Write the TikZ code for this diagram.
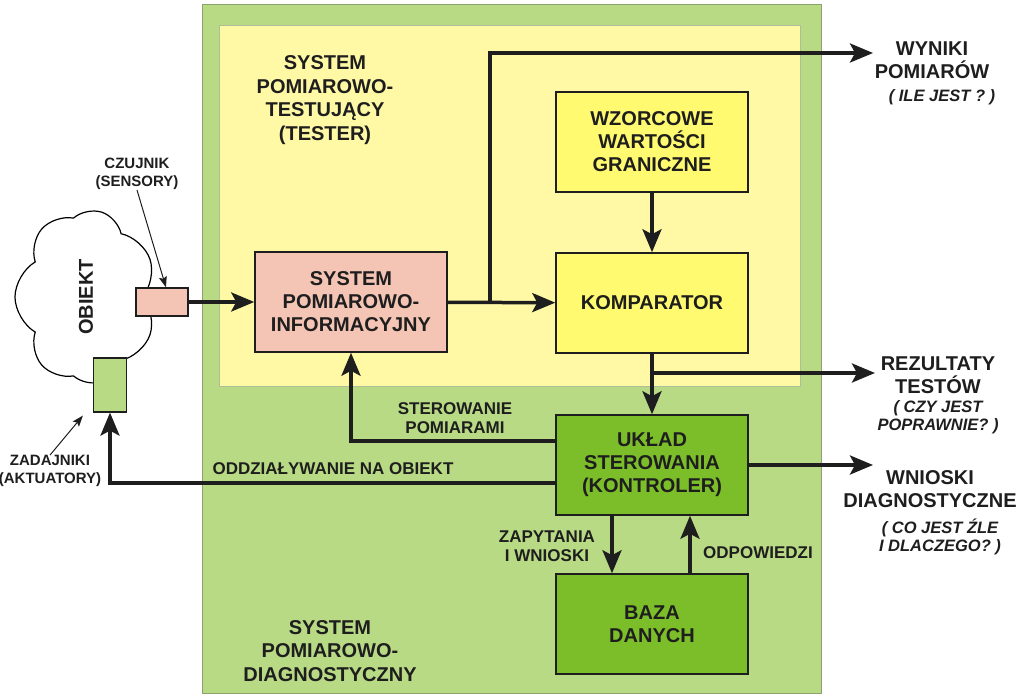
\documentclass[tikz,border=0pt]{standalone}
\usepackage{fontspec}
\setmainfont{Liberation Sans}
\usetikzlibrary{arrows.meta,shapes.symbols}

\definecolor{tlozielone}{RGB}{185,218,132}
\definecolor{tlozolte}{RGB}{255,249,166}
\definecolor{blokzolty}{RGB}{255,250,112}
\definecolor{blokrozowy}{RGB}{244,196,180}
\definecolor{blokzielony}{RGB}{124,190,42}
\definecolor{ramka}{RGB}{140,162,108}
\definecolor{tekst}{RGB}{30,30,30}

\tikzset{
  blok/.style={draw=tekst, line width=1.5pt, minimum width=192pt, minimum height=100pt,
    align=center, text=tekst, font=\bfseries\fontsize{20}{23}\selectfont},
  naglowek/.style={align=center, inner sep=0pt, text=tekst, font=\bfseries\fontsize{20}{23.5}\selectfont},
  uwaga/.style={align=center, inner sep=0pt, text=tekst, font=\bfseries\itshape\fontsize{16.5}{18}\selectfont},
  opis/.style={align=center, inner sep=0pt, text=tekst, font=\bfseries\fontsize{17}{19}\selectfont},
  drobny/.style={align=center, inner sep=0pt, text=tekst, font=\bfseries\fontsize{15}{18}\selectfont},
  przeplyw/.style={draw=tekst, line width=3.5pt, -{Stealth[length=23pt,width=19pt,inset=5pt]}},
  wskaz/.style={draw=tekst, line width=1pt, -{Stealth[length=11pt,width=8pt,inset=2pt]}}
}

\begin{document}
\begin{tikzpicture}[x=1pt,y=-1pt]
\useasboundingbox (0,0) rectangle (1023,700);

% tla systemow
\filldraw[fill=tlozielone, draw=ramka, line width=1pt] (202,5) rectangle (821,693);
\filldraw[fill=tlozolte, draw=ramka!70, line width=1pt] (219,26) rectangle (800,387);
\node[naglowek] (tester) at (325,100) {SYSTEM\\POMIAROWO-\\TESTUJĄCY\\(TESTER)};
\node[naglowek] (diagnoza) at (330,651) {SYSTEM\\POMIAROWO-\\DIAGNOSTYCZNY};

% obiekt
\node[cloud, draw=black, fill=white, line width=1.2pt, cloud puffs=7, cloud puff arc=120,
  rotate=90, minimum width=174pt, minimum height=142pt, text=tekst,
  font=\bfseries\fontsize{20}{23}\selectfont] (obiekt) at (86,297) {OBIEKT};
\node[draw=tekst, fill=blokrozowy, line width=1.2pt, minimum width=52pt, minimum height=28pt, inner sep=0pt] (czujnik) at (162,302) {};
\node[draw=tekst, fill=tlozielone, line width=1.2pt, minimum width=33pt, minimum height=54pt, inner sep=0pt] (zadajnik) at (110,385) {};
\node[drobny] (czujniklbl) at (137,174) {CZUJNIK\\(SENSORY)};
\node[drobny] (zadajniklbl) at (50,471) {ZADAJNIKI\\(AKTUATORY)};

% bloki
\node[blok, fill=blokrozowy] (spi) at (351,302) {SYSTEM\\POMIAROWO-\\INFORMACYJNY};
\node[blok, fill=blokzolty] (wzorce) at (652,142) {WZORCOWE\\WARTOŚCI\\GRANICZNE};
\node[blok, fill=blokzolty] (komparator) at (652,303) {KOMPARATOR};
\node[blok, fill=blokzielony] (uklad) at (652,465) {UKŁAD\\STEROWANIA\\(KONTROLER)};
\node[blok, fill=blokzielony] (baza) at (652,624) {BAZA\\DANYCH};

% wyjscia
\node[naglowek] (wyniki) at (932,60) {WYNIKI\\POMIARÓW};
\node[uwaga] (wynikiuw) at (942,97) {( ILE JEST ? )};
\node[naglowek] (rezultaty) at (938,375) {REZULTATY\\TESTÓW};
\node[uwaga] (rezultatyuw) at (938,417) {( CZY JEST\\POPRAWNIE? )};
\node[naglowek] (wnioski) at (930,489) {WNIOSKI\\DIAGNOSTYCZNE};
\node[uwaga] (wnioskiuw) at (940,537) {( CO JEST ŹLE\\I DLACZEGO? )};

\coordinate (rozg1) at (490,303);
\coordinate (rozg2) at (652,373);
\coordinate (wynikikon) at (873,53);
\coordinate (rezultatykon) at (875,373);
\coordinate (wnioskikon) at (873,465);

% polaczenia
\draw[przeplyw] (czujnik) -- (spi);
\draw[przeplyw] (spi) -- (komparator);
\draw[przeplyw] (rozg1) |- (wynikikon);
\draw[przeplyw] (wzorce) -- (komparator);
\draw[przeplyw] (komparator) -- (uklad);
\draw[przeplyw] (rozg2) -- (rezultatykon);
\draw[przeplyw] (uklad) -- (wnioskikon);
\draw[przeplyw] ([yshift=24pt]uklad.west) -| (spi);
\draw[przeplyw] ([yshift=-18pt]uklad.west) -| (zadajnik);
\draw[przeplyw] ([xshift=-40pt]uklad.south) -- ([xshift=-40pt]baza.north);
\draw[przeplyw] ([xshift=38pt]baza.north) -- ([xshift=38pt]uklad.south);
\draw[wskaz] (czujniklbl.south) -- ([xshift=4pt]czujnik.north);
\draw[wskaz] (zadajniklbl.north) -- ([xshift=-10pt,yshift=-3pt]zadajnik.south west);

% opisy polaczen
\node[opis] (sterpom) at (455,418) {STEROWANIE\\POMIARAMI};
\node[opis] (oddzial) at (333,469) {ODDZIAŁYWANIE NA OBIEKT};
\node[opis] (zapytania) at (547,546) {ZAPYTANIA\\I WNIOSKI};
\node[opis] (odpowiedzi) at (758,553) {ODPOWIEDZI};
\end{tikzpicture}
\end{document}
